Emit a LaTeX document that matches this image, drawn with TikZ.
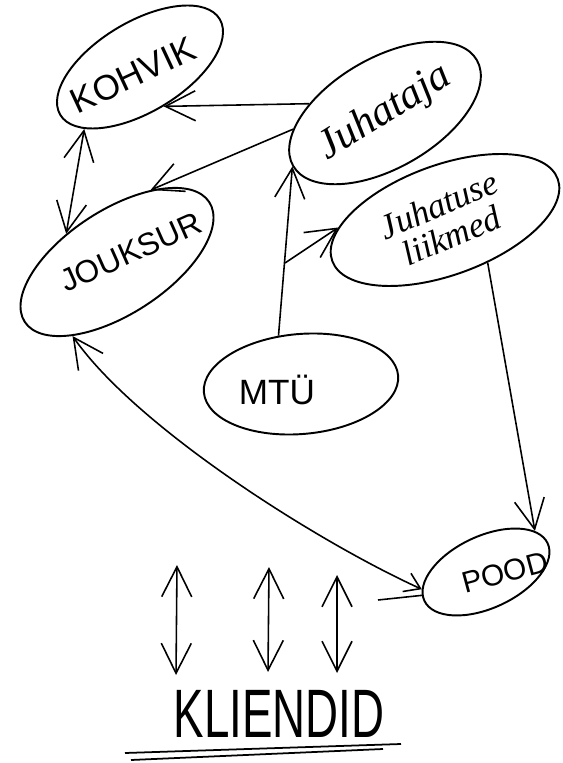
\documentclass[tikz,border=0pt]{standalone}
\usepackage{fontspec}
\setmainfont{Liberation Sans}
\newfontfamily\handwrite{Liberation Serif}
\usepackage{graphicx}
\usetikzlibrary{shapes.geometric, arrows.meta}

\tikzstyle{bubble} = [ellipse, draw=black, line width=1.1pt, inner sep=0pt]
\tikzstyle{caps} = [font=\fontsize{20}{22}\selectfont]
\tikzstyle{cursive} = [font=\handwrite\itshape\fontsize{22}{20}\selectfont, align=center]
\tikzstyle{arrow} = [line width=0.9pt, -{Straight Barb[length=6mm,width=6mm]}]
\tikzstyle{twoway} = [line width=0.9pt, {Straight Barb[length=6mm,width=6mm]}-{Straight Barb[length=6mm,width=6mm]}]

\begin{document}
\begin{tikzpicture}[x=0.02cm, y=-0.02cm]
    \useasboundingbox (0,0) rectangle (562,763);

    \node (kohvik) [bubble, minimum width=3.72cm, minimum height=1.8cm, rotate=31,
        label={[caps, xshift=-0.14cm, yshift=-0.16cm, rotate=25]center:KOHVIK}] at (140,67) {};
    \node (juhataja) [bubble, minimum width=4.24cm, minimum height=2.2cm, rotate=30,
        label={[cursive, font=\handwrite\itshape\fontsize{24}{26}\selectfont, rotate=32]center:Juhataja}] at (385,113) {};
    \node (jouksur) [bubble, minimum width=4.4cm, minimum height=2.08cm, rotate=33,
        label={[caps, font=\fontsize{18}{20}\selectfont, xshift=0.28cm, yshift=0.2cm, rotate=24]center:JOUKSUR}] at (117,262) {};
    \node (liikmed) [bubble, minimum width=4.8cm, minimum height=2.2cm, rotate=20,
        label={[cursive, font=\handwrite\itshape\fontsize{20}{19}\selectfont, rotate=23]center:{Juhatuse\\liikmed}}] at (445,220) {};
    \node (mtu) [bubble, minimum width=3.9cm, minimum height=2cm, rotate=5,
        label={[caps, xshift=-0.48cm, yshift=-0.12cm]center:MTÜ}] at (301,384) {};
    \node (pood) [bubble, minimum width=2.72cm, minimum height=1.44cm, rotate=25,
        label={[caps, font=\fontsize{17}{19}\selectfont, xshift=0.38cm, rotate=15]center:POOD}] at (486,572) {};
    \node (kliendid) [caps, font=\fontsize{26}{28}\selectfont] at (279,714) {\scalebox{1}[1.5]{KLIENDID}};

    % arrow ends that are not on a bubble
    \coordinate (fork) at (285,263);
    \coordinate (stub) at (378,600);
    \coordinate (up1) at (177,565);
    \coordinate (down1) at (176,675);
    \coordinate (up2) at (269,567);
    \coordinate (down2) at (268,672);
    \coordinate (up3) at (337,575);
    \coordinate (down3) at (337,673);

    \draw [arrow] (juhataja.143) -- (kohvik.south);
    \draw [arrow] (juhataja.160) -- (jouksur.32);
    \draw [twoway] (kohvik.197) -- (jouksur.118);
    \draw [arrow] (mtu.110) -- (juhataja.west);
    \draw [arrow] (fork) -- (liikmed.164);
    \draw [arrow] (liikmed.295) -- (pood.15);
    \draw [line width=0.9pt, {Straight Barb[length=6mm,width=6mm]}-{Straight Barb[length=3mm,width=4mm]}]
        (jouksur.206) .. controls (137,428) and (318,542) .. (pood.170);
    \draw [line width=0.9pt] (stub) -- (pood.175);

    \draw [twoway] (up1) -- (down1);
    \draw [twoway] (up2) -- (down2);
    \draw [twoway] (up3) -- (down3);

    % double underline
    \draw [line width=1pt] (125,753) -- (401,744);
    \draw [line width=1pt] (131,760) -- (383,749);

\end{tikzpicture}
\end{document}
